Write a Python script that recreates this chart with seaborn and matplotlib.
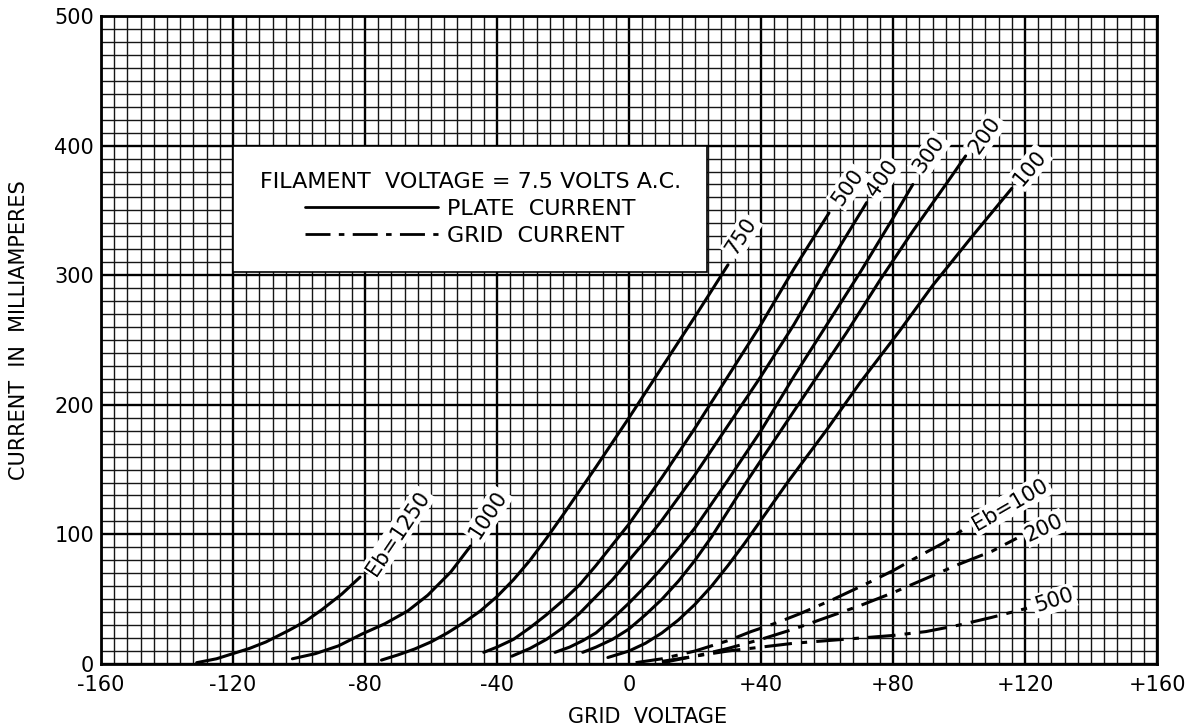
import matplotlib
matplotlib.use("Agg")
import numpy as np
import pandas as pd
import matplotlib.pyplot as plt
import seaborn as sns
from matplotlib.lines import Line2D

sns.set_style("white")
plt.rcParams['font.family'] = ['DejaVu Sans']
plt.rcParams['text.color'] = 'black'
plt.rcParams['axes.labelcolor'] = 'black'
plt.rcParams['xtick.color'] = 'black'
plt.rcParams['ytick.color'] = 'black'

# plate current curves: grid voltage (V) vs plate current (mA)
eg_1250 = [-131, -125, -120, -115, -110, -103, -98, -93, -87, -81.5]
ip_1250 = [1, 4, 8, 12, 17, 26, 33, 42, 54, 67]
eg_1000 = [-102, -95, -88, -81, -74, -67, -61, -54, -48]
ip_1000 = [4, 8, 14, 23, 31, 41, 53, 71, 91]
eg_750 = [-75, -70, -65, -60, -55, -50, -45, -40, -35, -30, -25, -20, -10, 0, 10, 20, 30]
ip_750 = [3, 7, 11.5, 17, 24, 32, 41, 52, 65, 80, 97, 115, 152, 190, 229, 268, 308]
eg_500 = [-44, -40, -35, -30, -25, -20, -15, -10, -5, 0, 5, 10, 20, 30, 40, 50, 60.6]
ip_500 = [9, 13, 19, 28, 38, 49, 61, 76, 92, 108, 126, 144, 182, 222, 262, 305, 348]
eg_400 = [-35.5, -30, -25, -20, -15, -10, -5, 0, 5, 10, 20, 30, 40, 50, 60, 72]
ip_400 = [6, 12, 19, 28, 39, 52, 65, 80, 95, 111, 146, 184, 222, 262, 306, 356]
eg_300 = [-22.4, -18, -14, -10, -5, 0, 5, 10, 15, 20, 30, 40, 50, 60, 70, 80, 86]
ip_300 = [9, 13, 18, 24, 35, 47, 60, 74, 89, 105, 142, 180, 222, 262, 302, 344, 370]
eg_200 = [-14, -10, -5, 0, 5, 10, 15, 20, 25, 30, 36, 46, 56, 66, 76, 86, 96, 102]
ip_200 = [9, 13, 19, 27, 38, 50, 64, 80, 98, 118, 142, 180, 218, 256, 296, 334, 370, 392]
eg_100 = [-6.4, 0, 5, 10, 15, 20, 25, 30, 35, 40, 48, 60, 70, 82, 92, 104, 116]
ip_100 = [5, 10, 16, 24, 34, 46, 60, 76, 93, 111, 140, 181, 217, 257, 292, 330, 367]

# grid current curves
gg_100 = [2, 10, 20, 30, 37, 45, 52, 62, 72, 80, 87, 95, 102]
ig_100 = [1, 4, 10, 18, 25, 32, 39, 50, 62, 72, 82, 93, 105]
gg_200 = [10, 20, 30, 40, 50, 60, 70, 80, 90, 100, 110, 117.5]
ig_200 = [2, 6, 12, 19, 27, 36, 45, 55, 66, 77, 87, 97]
gg_500 = [10, 20, 30, 40, 50, 60, 70, 80, 90, 100, 110, 120.6]
ig_500 = [1, 6, 10, 13, 16, 18, 20, 22, 25, 30, 36, 43]

plate = [(eg_1250, ip_1250), (eg_1000, ip_1000), (eg_750, ip_750), (eg_500, ip_500),
         (eg_400, ip_400), (eg_300, ip_300), (eg_200, ip_200), (eg_100, ip_100)]
grid = [(gg_100, ig_100), (gg_200, ig_200), (gg_500, ig_500)]

# curve labels: text, x, y, rotation
plate_labels = [("Eb=1250", -70, 101, 56), ("1000", -42.7, 115, 57), ("750", 34, 330, 57),
                ("500", 66.4, 368, 55), ("400", 76.7, 375, 55), ("300", 91, 393, 55),
                ("200", 108, 408, 55), ("100", 121.5, 383, 50)]
grid_labels = [("Eb=100", 115.5, 123, 30), ("200", 125.8, 105, 25), ("500", 128.8, 49, 18)]

x_ticks = [-160, -120, -80, -40, 0, 40, 80, 120, 160]
x_ticklabels = ["-160", "-120", "-80", "-40", "0", "+40", "+80", "+120", "+160"]
y_ticks = [0, 100, 200, 300, 400, 500]

dashdot = (0, (9, 3, 2, 3))

fig = plt.figure(figsize=(11.85, 7.27), dpi=100)
ax = fig.add_axes([0.0852, 0.0867, 0.8912, 0.8913])

for eg, ip in plate:
    sns.lineplot(x=eg, y=ip, ax=ax, color='black', lw=2.2, sort=False, estimator=None, zorder=3)
for eg, ig in grid:
    sns.lineplot(x=eg, y=ig, ax=ax, color='black', lw=2.2, sort=False, estimator=None,
                 linestyle=dashdot, zorder=3)

lab_box = dict(boxstyle='square,pad=0.1', fc='white', ec='none')
for txt, x, y, rot in plate_labels + grid_labels:
    ax.text(x, y, txt, rotation=rot, ha='center', va='center', fontsize=15,
            bbox=lab_box, zorder=4, rotation_mode='anchor')

ax.set_xlim(-160, 160)
ax.set_ylim(0, 500)
ax.set_xticks(x_ticks)
ax.set_xticklabels(x_ticklabels)
ax.set_yticks(y_ticks)
ax.set_xticks(np.arange(-160, 161, 4), minor=True)
ax.set_yticks(np.arange(0, 501, 10), minor=True)
ax.tick_params(which='both', length=0, labelsize=15)
ax.tick_params(axis='x', pad=8)
ax.tick_params(axis='y', pad=5)
ax.grid(which='minor', color='#151515', lw=1.0, zorder=1)
ax.grid(which='major', color='black', lw=1.7, zorder=1)
ax.set_axisbelow(True)
for s in ax.spines.values():
    s.set_linewidth(2)
    s.set_color('black')

ax.set_xlabel("GRID  VOLTAGE", fontsize=15)
ax.set_ylabel("CURRENT  IN  MILLIAMPERES", fontsize=15)
ax.xaxis.set_label_coords(0.518, -0.066)
ax.yaxis.set_label_coords(-0.068, 0.515)

handles = [Line2D([], [], color='black', lw=2, ls='-'),
           Line2D([], [], color='black', lw=2, ls=dashdot)]
leg = ax.legend(handles, ["PLATE  CURRENT", "GRID  CURRENT"],
                title="FILAMENT  VOLTAGE = 7.5 VOLTS A.C.", title_fontsize=16, fontsize=16,
                loc='upper left', bbox_to_anchor=(0.125, 0.8), handlelength=6.0,
                handletextpad=0.4, labelspacing=0.3, borderpad=1.2, fancybox=False,
                framealpha=1, edgecolor='black', facecolor='white', borderaxespad=0)
leg.get_frame().set_linewidth(1.2)
leg.set_zorder(5)

fig.savefig("out.png", dpi=100)
